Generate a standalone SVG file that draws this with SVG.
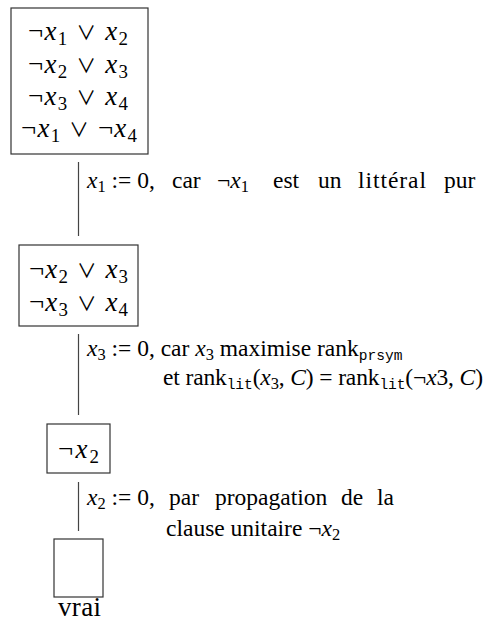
<svg xmlns="http://www.w3.org/2000/svg" width="486" height="622" viewBox="0 0 486 622">
<style>
.bx{fill:#fff;stroke:#333;stroke-width:1.2}
.cn{stroke:#444;stroke-width:1.2;fill:none}
.t{font-size:27px;fill:#000}
.l{font-size:23.5px;fill:#000}
.i{font-style:italic}
.s{font-size:0.7em}
.v{font-family:'Noto Sans CJK JP','DejaVu Sans',sans-serif;font-size:0.72em}
.tt{font-family:'Liberation Mono',monospace;font-size:0.62em}
</style>
<rect width="486" height="622" fill="#fff"/>
<g id="connectors">
<line class="cn" x1="78.5" y1="162" x2="78.5" y2="236"/>
<line class="cn" x1="78.5" y1="334" x2="78.5" y2="415"/>
<line class="cn" x1="78.5" y1="482" x2="78.5" y2="531"/>
</g>
<g font-family="'Liberation Serif', 'Times New Roman', serif">
<g id="node1">
<rect class="bx" x="11" y="8" width="137" height="146"/>
<text class="t" x="28" y="40" textLength="100">¬<tspan class="i">x</tspan><tspan class="s" dy="5">1</tspan><tspan dy="-5"> </tspan><tspan class="v">∨</tspan> <tspan class="i">x</tspan><tspan class="s" dy="5">2</tspan></text>
<text class="t" x="28" y="72.5" textLength="100">¬<tspan class="i">x</tspan><tspan class="s" dy="5">2</tspan><tspan dy="-5"> </tspan><tspan class="v">∨</tspan> <tspan class="i">x</tspan><tspan class="s" dy="5">3</tspan></text>
<text class="t" x="28" y="104.5" textLength="100">¬<tspan class="i">x</tspan><tspan class="s" dy="5">3</tspan><tspan dy="-5"> </tspan><tspan class="v">∨</tspan> <tspan class="i">x</tspan><tspan class="s" dy="5">4</tspan></text>
<text class="t" x="21" y="136.5" textLength="116">¬<tspan class="i">x</tspan><tspan class="s" dy="5">1</tspan><tspan dy="-5"> </tspan><tspan class="v">∨</tspan> ¬<tspan class="i">x</tspan><tspan class="s" dy="5">4</tspan></text>
</g>
<g id="node2">
<rect class="bx" x="19" y="245" width="119" height="81"/>
<text class="t" x="29" y="278" textLength="99">¬<tspan class="i">x</tspan><tspan class="s" dy="5">2</tspan><tspan dy="-5"> </tspan><tspan class="v">∨</tspan> <tspan class="i">x</tspan><tspan class="s" dy="5">3</tspan></text>
<text class="t" x="29" y="311" textLength="99">¬<tspan class="i">x</tspan><tspan class="s" dy="5">3</tspan><tspan dy="-5"> </tspan><tspan class="v">∨</tspan> <tspan class="i">x</tspan><tspan class="s" dy="5">4</tspan></text>
</g>
<g id="node3">
<rect class="bx" x="47" y="424" width="63" height="49"/>
<text class="t" x="58" y="458" textLength="41">¬<tspan class="i">x</tspan><tspan class="s" dy="5">2</tspan></text>
</g>
<g id="node4">
<rect class="bx" x="54" y="539" width="49" height="58"/>
<text class="t" x="58" y="616" textLength="43">vrai</text>
</g>
<g id="labels">
<text class="l" x="87" y="188"><tspan class="i">x</tspan><tspan class="s" dy="4">1</tspan><tspan dy="-4"> := 0,</tspan></text>
<text class="l" x="172" y="188">car</text>
<text class="l" x="217" y="188">¬<tspan class="i">x</tspan><tspan class="s" dy="4">1</tspan></text>
<text class="l" x="273" y="188">est</text>
<text class="l" x="318" y="188">un</text>
<text class="l" x="358" y="188" textLength="68">littéral</text>
<text class="l" x="444" y="188">pur</text>
<text class="l" x="87" y="356"><tspan class="i">x</tspan><tspan class="s" dy="4">3</tspan><tspan dy="-4"> := 0, car </tspan><tspan class="i">x</tspan><tspan class="s" dy="4">3</tspan><tspan dy="-4"> maximise rank</tspan><tspan class="tt" dy="4">prsym</tspan></text>
<text class="l" x="163" y="385" textLength="320">et rank<tspan class="tt" dy="4">lit</tspan><tspan dy="-4">(</tspan><tspan class="i">x</tspan><tspan class="s" dy="4">3</tspan><tspan dy="-4">, </tspan><tspan class="i">C</tspan>) = rank<tspan class="tt" dy="4">lit</tspan><tspan dy="-4">(¬</tspan><tspan class="i">x</tspan>3, <tspan class="i">C</tspan>)</text>
<text class="l" x="87" y="505"><tspan class="i">x</tspan><tspan class="s" dy="4">2</tspan><tspan dy="-4"> := 0,</tspan></text>
<text class="l" x="169" y="505">par</text>
<text class="l" x="215" y="505">propagation</text>
<text class="l" x="341" y="505">de</text>
<text class="l" x="377" y="505">la</text>
<text class="l" x="166" y="536">clause unitaire ¬<tspan class="i">x</tspan><tspan class="s" dy="4">2</tspan></text>
</g>
</g>
</svg>
